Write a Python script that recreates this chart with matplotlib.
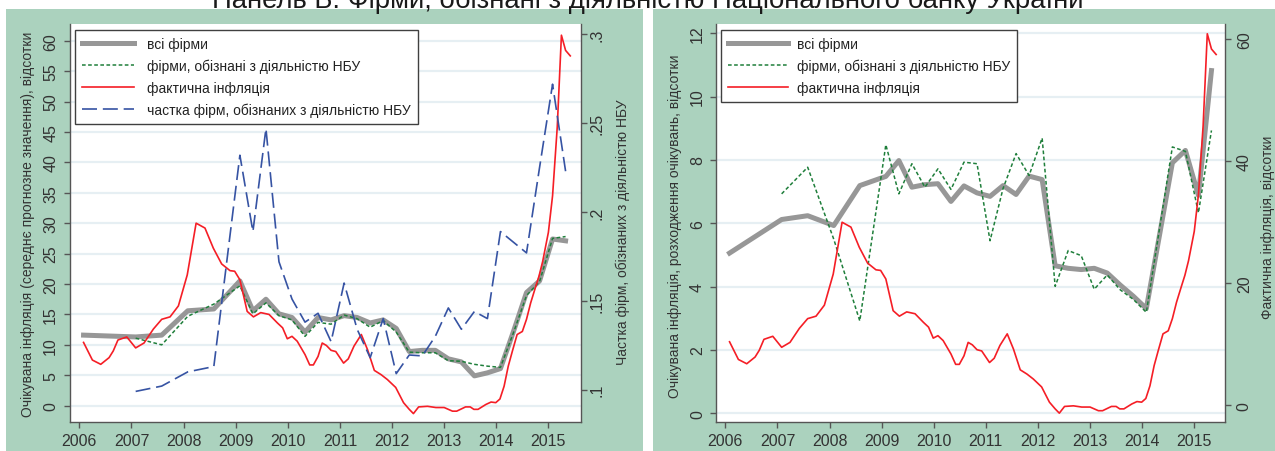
import numpy as np
import matplotlib
matplotlib.use("Agg")
import matplotlib.pyplot as plt
from matplotlib.patches import Rectangle

plt.rcParams['font.family'] = ['Liberation Sans', 'DejaVu Sans']

# survey waves (decimal years)
survey_dates = [2006.08, 2007.08, 2007.58, 2008.08, 2008.58, 2009.08, 2009.33, 2009.58, 2009.83,
                2010.08, 2010.33, 2010.58, 2010.83, 2011.08, 2011.33, 2011.58, 2011.83,
                2012.08, 2012.33, 2012.58, 2012.83, 2013.08, 2013.33, 2013.58, 2013.83,
                2014.08, 2014.33, 2014.58, 2014.83, 2015.08, 2015.33]

# expected inflation, mean forecast, %
exp_all = [11.6, 11.3, 11.6, 15.6, 15.9, 20.5, 15.6, 17.5, 15.1, 14.5, 12.1, 14.5, 14.1, 14.8, 14.5,
           13.6, 14.1, 12.7, 8.9, 9.1, 9.1, 7.7, 7.2, 4.9, 5.4, 6.1, 12.2, 18.6, 20.5, 27.4, 27.1]
exp_aware = [np.nan, 11.1, 10.0, 14.7, 16.7, 19.7, 15.1, 16.9, 14.8, 14.1, 11.4, 13.7, 13.4, 14.9,
             14.3, 12.9, 14.0, 12.1, 8.8, 8.7, 8.7, 7.4, 7.3, 6.8, 6.5, 6.3, 12.0, 18.1, 20.4, 27.5, 27.8]
# share of firms aware of NBU activity
share_aware = [np.nan, 0.099, 0.102, 0.110, 0.113, 0.232, 0.189, 0.247, 0.172, 0.151, 0.138, 0.143,
               0.127, 0.160, 0.134, 0.118, 0.140, 0.109, 0.1195, 0.119, 0.130, 0.146, 0.134, 0.144,
               0.140, 0.189, 0.183, 0.177, 0.225, 0.272, 0.223]

# dispersion of expectations, %
disp_all = [5.06, 6.12, 6.24, 5.93, 7.19, 7.48, 7.98, 7.14, 7.22, 7.25, 6.69, 7.18, 6.96, 6.85, 7.19,
            6.91, 7.49, 7.38, 4.66, 4.58, 4.54, 4.58, 4.43, 4.05, 3.7, 3.31, 5.6, 7.91, 8.30, 6.88, 10.82]
disp_aware = [np.nan, 6.93, 7.77, 5.5, 2.92, 8.48, 6.93, 7.88, 7.14, 7.72, 7.07, 7.93, 7.88, 5.45,
              7.1, 8.2, 7.51, 8.69, 4.01, 5.14, 4.98, 3.92, 4.37, 3.9, 3.6, 3.19, 5.8, 8.41, 8.27,
              6.33, 8.93]

# actual CPI inflation, y/y %
infl_dates = [2006.08, 2006.25, 2006.41, 2006.57, 2006.65, 2006.74, 2006.91, 2007.08, 2007.24, 2007.42,
              2007.58, 2007.74, 2007.90, 2008.07, 2008.24, 2008.41, 2008.57, 2008.73, 2008.89, 2008.98,
              2009.08, 2009.22, 2009.34, 2009.48, 2009.64, 2009.80, 2009.90, 2009.99, 2010.08, 2010.18,
              2010.33, 2010.42, 2010.49, 2010.58, 2010.66, 2010.74, 2010.83, 2010.92, 2011.07, 2011.16,
              2011.27, 2011.41, 2011.53, 2011.66, 2011.79, 2011.91, 2012.07, 2012.22, 2012.33, 2012.41,
              2012.51, 2012.68, 2012.84, 2013.00, 2013.16, 2013.24, 2013.41, 2013.50, 2013.57, 2013.65,
              2013.80, 2013.90, 2013.99, 2014.07, 2014.15, 2014.23, 2014.31, 2014.40, 2014.50, 2014.58,
              2014.66, 2014.75, 2014.82, 2014.89, 2015.00, 2015.08, 2015.17, 2015.25, 2015.33, 2015.42]
infl = [10.4, 7.5, 6.8, 7.9, 9.0, 10.8, 11.3, 9.5, 10.3, 12.6,
        14.2, 14.6, 16.4, 21.5, 30.0, 29.2, 25.9, 23.3, 22.2, 22.1,
        20.7, 15.5, 14.6, 15.3, 15.0, 13.6, 12.8, 11.0, 11.4, 10.6,
        8.4, 6.7, 6.7, 8.1, 10.3, 9.9, 9.1, 8.9, 7.0, 7.7,
        9.8, 11.7, 9.2, 5.8, 5.1, 4.3, 3.0, 0.5, -0.6, -1.3,
        -0.2, -0.1, -0.3, -0.3, -0.9, -0.9, -0.2, -0.2, -0.6, -0.6,
        0.2, 0.6, 0.5, 1.1, 3.2, 6.5, 9.0, 11.7, 12.2, 14.2,
        16.9, 19.4, 21.3, 23.7, 28.5, 34.5, 45.8, 60.9, 58.4, 57.5]

years = list(range(2006, 2016))
left_ticks = list(range(0, 61, 5))
share_ticks = [0.10, 0.15, 0.20, 0.25, 0.30]
share_labels = ['.1', '.15', '.2', '.25', '.3']
disp_ticks = list(range(0, 13, 2))
infl_ticks = [0, 20, 40, 60]

labels_a = ['всі фірми', 'фірми, обізнані з діяльністю НБУ', 'фактична інфляція',
            'частка фірм, обізнаних з діяльністю НБУ']
labels_b = labels_a[:3]

BG = '#ABD2BE'
GRID = '#E6EFF3'
AXC = '#555555'
TXT = '#333333'
GRAY = '#979797'
GREEN = '#1F7F3B'
RED = '#F51E26'
BLUE = '#3653A3'

W, H = 1275, 452
fig = plt.figure(figsize=(W / 100, H / 100), dpi=100)
fig.patch.set_facecolor('white')
fig.patches.append(Rectangle((6 / W, 0), (643 - 6) / W, 1 - 9.5 / H,
                             transform=fig.transFigure, facecolor=BG, edgecolor='none', zorder=-10))
fig.patches.append(Rectangle((653 / W, 0), (W - 653) / W, 1 - 9.5 / H,
                             transform=fig.transFigure, facecolor=BG, edgecolor='none', zorder=-10))


def px_axes(x0, y0, x1, y1):
    return fig.add_axes([x0 / W, 1 - y1 / H, (x1 - x0) / W, (y1 - y0) / H])


def style_main(ax, ticks, pad_y):
    ax.set_facecolor('white')
    ax.spines['top'].set_visible(False)
    ax.spines['right'].set_visible(False)
    for s in ('left', 'bottom'):
        ax.spines[s].set_color(AXC)
        ax.spines[s].set_linewidth(1.0)
    ax.set_xticks(years)
    ax.set_yticks(ticks)
    ax.tick_params(axis='x', length=4.5, width=1.0, color=AXC, labelsize=11.5, labelcolor=TXT, pad=3)
    ax.tick_params(axis='y', length=4.5, width=1.0, color=AXC, labelsize=11.5, labelcolor=TXT,
                   pad=pad_y, labelrotation=90)
    for lab in ax.get_yticklabels():
        lab.set_va('center')
    ax.grid(axis='y', color=GRID, linewidth=1.6)
    ax.set_axisbelow(True)


def style_twin(ax, pad_y):
    for s in ('left', 'top', 'bottom'):
        ax.spines[s].set_visible(False)
    ax.spines['right'].set_color(AXC)
    ax.spines['right'].set_linewidth(1.0)
    ax.tick_params(axis='y', length=4.5, width=1.0, color=AXC, labelsize=11.5, labelcolor=TXT,
                   pad=pad_y, labelrotation=90)
    for lab in ax.get_yticklabels():
        lab.set_va('center')


def make_legend(ax, handles, labels, x, y, hlen, tpad):
    leg = ax.legend(handles, labels, loc='upper left', bbox_to_anchor=(x / W, 1 - y / H),
                    bbox_transform=fig.transFigure, borderaxespad=0, frameon=True, fancybox=False,
                    framealpha=1, edgecolor='#404040', fontsize=10, handlelength=hlen,
                    handletextpad=tpad, borderpad=0.5, labelspacing=0.56)
    leg.get_frame().set_linewidth(1.0)
    for t in leg.get_texts():
        t.set_color('#222222')
    return leg


# ---- left panel: expected inflation levels ----
ax1 = px_axes(70, 25, 580.7, 423.3)
style_main(ax1, left_ticks, 4)
ax1.set_xlim(2005.82, 2015.62)
ax1.set_ylim(-2.73, 62.74)
l_all, = ax1.plot(survey_dates, exp_all, color=GRAY, lw=3.6, solid_joinstyle='round')
l_aw, = ax1.plot(survey_dates, exp_aware, color=GREEN, lw=1.1, dashes=(2.4, 1.6))
l_inf, = ax1.plot(infl_dates, infl, color=RED, lw=1.2)

ax1b = ax1.twinx()
ax1b.set_ylim(0.0816, 0.3059)
ax1b.set_yticks(share_ticks)
ax1b.set_yticklabels(share_labels)
style_twin(ax1b, 1.5)
l_sh, = ax1b.plot(survey_dates, share_aware, color=BLUE, lw=1.2, dashes=(9, 3.5))
make_legend(ax1b, [l_all, l_aw, l_inf, l_sh], labels_a, 75, 31, 3.75, 0.94)

fig.text(28.5 / W, 1 - 224 / H, 'Очікувана інфляція (середнє прогнозне значення), відсотки',
         rotation=90, ha='center', va='center', fontsize=10, color=TXT)
fig.text(622.5 / W, 1 - 232 / H, 'Частка фірм, обізнаних з діяльністю НБУ',
         rotation=90, ha='center', va='center', fontsize=10, color=TXT)

# ---- right panel: dispersion of expectations ----
ax2 = px_axes(716, 25, 1225, 423.3)
style_main(ax2, disp_ticks, 3.5)
ax2.set_xlim(2005.82, 2015.59)
ax2.set_ylim(-0.28, 12.29)
r_all, = ax2.plot(survey_dates, disp_all, color=GRAY, lw=3.6, solid_joinstyle='round')
r_aw, = ax2.plot(survey_dates, disp_aware, color=GREEN, lw=1.1, dashes=(2.4, 1.6))

ax2b = ax2.twinx()
ax2b.set_ylim(-2.8, 62.5)
ax2b.set_yticks(infl_ticks)
style_twin(ax2b, 4)
r_inf, = ax2b.plot(infl_dates, infl, color=RED, lw=1.2)
make_legend(ax2b, [r_all, r_aw, r_inf], labels_b, 721, 31, 4.3, 0.65)

fig.text(675.5 / W, 1 - 226 / H, 'Очікувана інфляція, розходження очікувань, відсотки',
         rotation=90, ha='center', va='center', fontsize=10, color=TXT)
fig.text(1268 / W, 1 - 227 / H, 'Фактична інфляція, відсотки',
         rotation=90, ha='center', va='center', fontsize=10, color=TXT)

fig.text(647.5 / W, 1 - 8 / H, 'Панель Б. Фірми, обізнані з діяльністю Національного банку України',
         ha='center', va='baseline', fontsize=19.8, color='#1a1a1a')

fig.savefig('out.png', dpi=100, facecolor=fig.get_facecolor())
